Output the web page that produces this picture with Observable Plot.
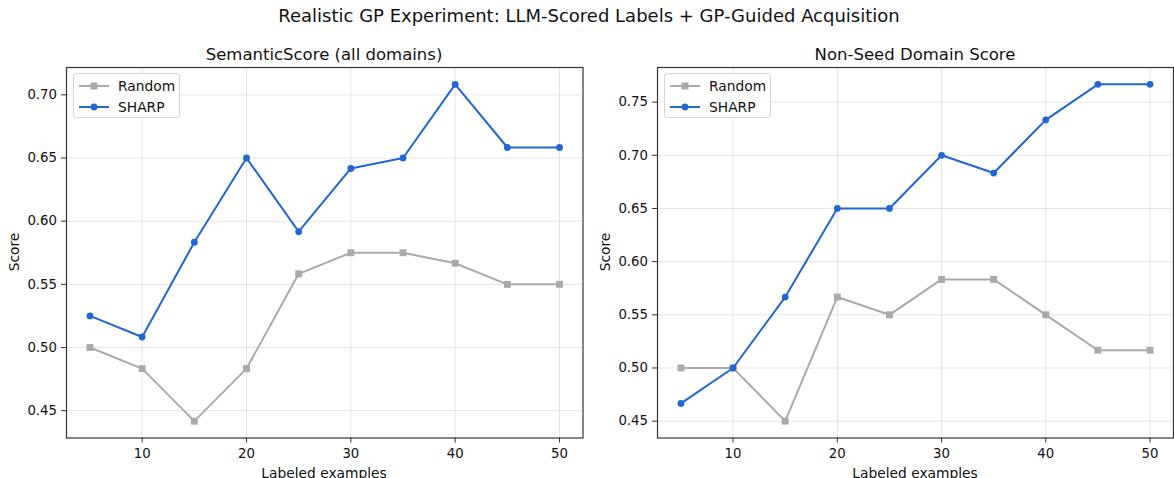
<!DOCTYPE html>
<html>
<head>
<meta charset="utf-8">
<script src="https://cdn.jsdelivr.net/npm/d3@7"></script>
<script src="https://cdn.jsdelivr.net/npm/@observablehq/plot@0.6"></script>
<style>
  html, body { margin: 0; padding: 0; background: #fff; }
  #root { position: relative; width: 1174px; height: 478px; overflow: hidden; font-family: "DejaVu Sans", sans-serif; color: #111; }
  .abs { position: absolute; white-space: nowrap; }
  .plotwrap { position: absolute; top: 0; }
  .plotwrap svg { overflow: visible; }
  .title { font-size: 18px; transform: translate(-50%, -50%); }
  .sub { font-size: 16.5px; transform: translate(-50%, -50%); }
  .lab { font-size: 13.8px; transform: translate(-50%, -50%); }
  .ylab { font-size: 13.8px; transform: translate(-50%, -50%) rotate(-90deg); }
  .legend { position: absolute; border: 1px solid #d6d6d6; border-radius: 3px; background: rgba(255,255,255,0.85); box-sizing: border-box; font-size: 13.8px; }
  .row { position: absolute; left: 0; height: 20px; display: flex; align-items: center; }
  .row svg { display: block; }
</style>
</head>
<body>
<div id="root"></div>
<script>
// ---- data ----
const labeled = [5, 10, 15, 20, 25, 30, 35, 40, 45, 50];
const semRandom = [0.5000, 0.4833, 0.4417, 0.4833, 0.5583, 0.5750, 0.5750, 0.5667, 0.5500, 0.5500];
const semSharp  = [0.5250, 0.5083, 0.5833, 0.6500, 0.5917, 0.6417, 0.6500, 0.7083, 0.6583, 0.6583];
const nsRandom  = [0.5000, 0.5000, 0.4500, 0.5667, 0.5500, 0.5833, 0.5833, 0.5500, 0.5167, 0.5167];
const nsSharp   = [0.4667, 0.5000, 0.5667, 0.6500, 0.6500, 0.7000, 0.6833, 0.7333, 0.7667, 0.7667];
const xTicks = [10, 20, 30, 40, 50];
const semYTicks = [0.45, 0.50, 0.55, 0.60, 0.65, 0.70];
const nsYTicks = [0.45, 0.50, 0.55, 0.60, 0.65, 0.70, 0.75];
const seriesNames = ["Random", "SHARP"];
const colors = { Random: "#aaaaaa", SHARP: "#2166d1" };
const mainTitle = "Realistic GP Experiment: LLM-Scored Labels + GP-Guided Acquisition";
const panelTitles = ["SemanticScore (all domains)", "Non-Seed Domain Score"];
const xLabel = "Labeled examples";
const yLabel = "Score";

function pad(vals) {
  const lo = d3.min(vals), hi = d3.max(vals), m = (hi - lo) * 0.05;
  return [lo - m, hi + m];
}
function rows(rand, sharp) {
  return labeled.flatMap((x, i) => [
    { x, y: rand[i], s: "Random" },
    { x, y: sharp[i], s: "SHARP" }
  ]);
}

function panel(rand, sharp, yTicks, opts) {
  const data = rows(rand, sharp);
  const rData = data.filter(d => d.s === "Random");
  const sData = data.filter(d => d.s === "SHARP");
  return Plot.plot({
    width: opts.width,
    height: 478,
    marginLeft: opts.ml,
    marginRight: opts.mr,
    marginTop: 67,
    marginBottom: 40.5,
    style: { fontFamily: "DejaVu Sans, sans-serif", fontSize: "13.3px", color: "#111", background: "transparent", overflow: "visible" },
    x: { domain: pad(labeled) },
    y: { domain: pad([...rand, ...sharp]) },
    marks: [
      Plot.gridX(xTicks, { stroke: "#000", strokeOpacity: 0.1 }),
      Plot.gridY(yTicks, { stroke: "#000", strokeOpacity: 0.1 }),
      Plot.line(rData, { x: "x", y: "y", stroke: colors.Random, strokeWidth: 2 }),
      Plot.dot(rData, { x: "x", y: "y", fill: colors.Random, symbol: "square", r: 3.9 }),
      Plot.line(sData, { x: "x", y: "y", stroke: colors.SHARP, strokeWidth: 2 }),
      Plot.dot(sData, { x: "x", y: "y", fill: colors.SHARP, symbol: "circle", r: 3.4 }),
      Plot.frame({ stroke: "#333", strokeWidth: 1.2 }),
      Plot.axisX(xTicks, { tickSize: 5, tickPadding: 6, label: null, stroke: "#333" }),
      Plot.axisY(yTicks, { tickSize: 5, tickPadding: 4.5, label: null, tickFormat: d3.format(".2f"), stroke: "#333" })
    ]
  });
}

const root = document.getElementById("root");
function addText(cls, text, x, y) {
  const d = document.createElement("div");
  d.className = "abs " + cls;
  d.style.left = x + "px"; d.style.top = y + "px";
  d.textContent = text;
  root.appendChild(d);
}
function addLegend(left, top) {
  const lg = document.createElement("div");
  lg.className = "legend";
  lg.style.left = left + "px"; lg.style.top = top + "px";
  lg.style.width = "107px"; lg.style.height = "45px";
  seriesNames.forEach((name, i) => {
    const r = document.createElement("div");
    r.className = "row";
    r.style.top = (2 + i * 21) + "px";
    const sym = name === "Random"
      ? `<rect x="16.5" y="6.5" width="7" height="7" fill="${colors[name]}"/>`
      : `<circle cx="20" cy="10" r="3.4" fill="${colors[name]}"/>`;
    r.innerHTML = `<svg width="44" height="20"><line x1="5" x2="35" y1="10" y2="10" stroke="${colors[name]}" stroke-width="2"/>${sym}</svg><span>${name}</span>`;
    lg.appendChild(r);
  });
  root.appendChild(lg);
}

const w1 = document.createElement("div");
w1.className = "plotwrap"; w1.style.left = "0px";
w1.appendChild(panel(semRandom, semSharp, semYTicks, { width: 600, ml: 66, mr: 17.5 }));
root.appendChild(w1);

const w2 = document.createElement("div");
w2.className = "plotwrap"; w2.style.left = "590px";
w2.appendChild(panel(nsRandom, nsSharp, nsYTicks, { width: 584, ml: 67, mr: 1 }));
root.appendChild(w2);

addText("title", mainTitle, 589, 15);
addText("sub", panelTitles[0], 324, 54);
addText("sub", panelTitles[1], 915, 54);
addText("lab", xLabel, 324, 473);
addText("lab", xLabel, 915, 473);
addText("ylab", yLabel, 14, 252);
addText("ylab", yLabel, 605, 252);
addLegend(73, 73);
addLegend(664, 73);
</script>
</body>
</html>
